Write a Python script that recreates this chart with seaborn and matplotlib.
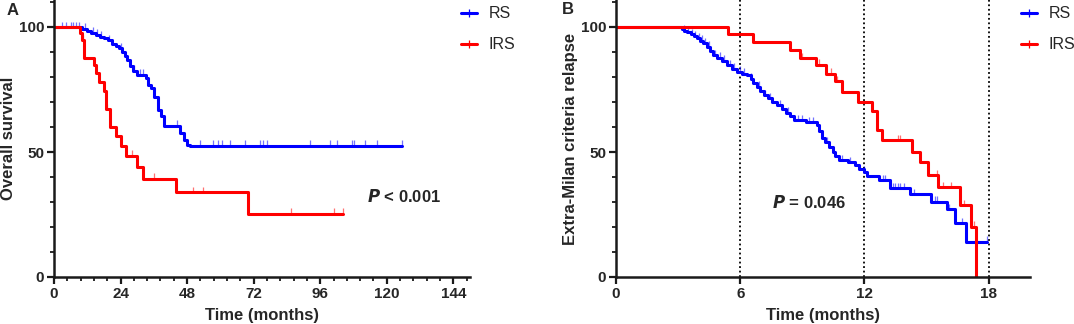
import matplotlib

matplotlib.use("Agg")
import matplotlib.pyplot as plt
from matplotlib.lines import Line2D
from matplotlib.ticker import MultipleLocator
import numpy as np
import seaborn as sns

sns.set_theme(style="ticks")
plt.rcParams["font.family"] = ["Liberation Sans", "DejaVu Sans"]

BLUE = "#0000ff"
RED = "#ff0000"
GROUPS = ["RS", "IRS"]

# ---- Panel A: overall survival (months) ----
a_rs_t = [0, 10, 12, 13.5, 15, 16.5, 18, 19.5, 21, 22.5, 23.5, 24.5, 25.5, 26.5,
          27.5, 28.5, 30, 33, 34, 35, 36, 37.5, 38.5, 39.5, 45.5, 47, 48, 49, 125.4]
a_rs_s = [100, 99.3, 98.5, 97.8, 97, 96.2, 95.5, 94.7, 93.3, 92.5, 91.6, 90, 88.5, 87,
          84.5, 82.5, 81, 79.5, 77, 75.5, 72, 67, 64.5, 60.5, 57.6, 55, 53, 52.5, 52.5]
a_rs_cens = [3, 4.5, 6, 7, 8, 9, 11, 14, 15.5, 17, 20, 24, 29, 31, 32, 44.2, 52.6,
             57.5, 59.3, 60.7, 63.5, 68.9, 74.3, 75.2, 76.7, 92.3, 99.5, 102, 107.4,
             108.2, 112.2, 116.6, 125.4]

a_irs_t = [0, 9.5, 10, 10.8, 14.5, 15.3, 16.3, 18, 18.8, 20.2, 22.4, 24, 26, 30, 32,
           44, 70, 104.3]
a_irs_s = [100, 97.5, 94.8, 87.5, 84.8, 81.5, 78, 74.3, 67.2, 60, 56.3, 52.5, 48.5,
           44, 39.3, 34, 25.3, 25.3]
a_irs_cens = [10.5, 19, 28, 36, 50, 53.8, 85.5, 101, 104.3]

# ---- Panel B: extra-Milan criteria relapse (months) ----
b_rs_t = [0, 3.18, 3.3, 3.42, 3.6, 3.75, 3.9, 4.05, 4.2, 4.39, 4.55, 4.71, 4.9, 5.1,
          5.36, 5.6, 5.84, 6.1, 6.32, 6.5, 6.64, 6.81, 6.95, 7.13, 7.35, 7.55, 7.77,
          8.0, 8.2, 8.4, 8.58, 9.2, 9.71, 9.8, 9.95, 10.1, 10.3, 10.5, 10.6, 10.76,
          11.2, 11.56, 11.75, 11.96, 12.13, 12.69, 13.26, 14.2, 15.24, 16.0, 16.4,
          16.9, 17.93]
b_rs_s = [100, 99.2, 98.5, 98.0, 97.2, 96.3, 95.5, 94.6, 93.6, 92.1, 90.5, 88.8, 87.8,
          86.6, 84.8, 83.4, 82.1, 81.4, 80.8, 79.3, 77.5, 76.1, 74.6, 72.8, 71.5, 70.2,
          68.8, 67.4, 65.8, 64.3, 62.8, 62.0, 60.8, 58.5, 55.6, 54, 52, 50.1, 48.5,
          46.8, 46, 44.8, 43.4, 42.1, 40.4, 38.8, 35.5, 33.2, 30.1, 27.1, 21.5, 14.1,
          14.1]
b_rs_cens = [3.3, 3.5, 3.65, 3.8, 4.0, 4.15, 4.3, 4.5, 4.8, 5.0, 5.2, 5.5, 5.7, 6.0,
             6.2, 6.5, 6.9, 7.2, 7.45, 7.9, 8.3, 8.8, 9.0, 9.3, 9.5, 10.2, 10.9, 11.3,
             12.0, 12.9, 13.0, 13.4, 13.5, 13.6, 13.7, 13.9, 14.4, 15.4, 15.5, 16.1,
             16.7, 17.93]

b_irs_t = [0, 5.43, 6.61, 8.42, 8.87, 9.68, 10.16, 10.6, 10.9, 11.67, 12.37, 12.61,
           12.85, 14.3, 14.67, 15.08, 15.56, 16.61, 17.17, 17.4]
b_irs_s = [100, 97.2, 94, 90.9, 87.6, 84.9, 81.3, 78.3, 73.9, 70.1, 66.5, 58.8, 54.8,
           50.1, 46.1, 40.8, 35.9, 28.8, 20.1, 0]
b_irs_cens = [9.0, 9.8, 10.4, 10.7, 13.6, 13.7, 15.5, 15.8, 16.2, 16.8, 17.3]


def step_value(times, surv, at):
    idx = np.searchsorted(times, at, side="right") - 1
    return np.asarray(surv)[idx]


def draw_curve(ax, times, surv, cens, color):
    sns.lineplot(x=times, y=surv, drawstyle="steps-post", estimator=None, sort=False,
                 color=color, linewidth=2.2, ax=ax)
    ax.plot(cens, step_value(times, surv, cens) + 1.0, linestyle="none", marker="|",
            markersize=5, markeredgewidth=0.9, color=color, alpha=0.55)


def style_axes(ax, xmax, major, minor, xlabel, ylabel):
    ax.set_xlim(0, xmax)
    ax.set_ylim(0, 110.8)
    ax.set_yticks([0, 50, 100])
    ax.yaxis.set_minor_locator(MultipleLocator(10))
    ax.xaxis.set_major_locator(MultipleLocator(major))
    if minor:
        ax.xaxis.set_minor_locator(MultipleLocator(minor))
    for side in ["left", "bottom"]:
        ax.spines[side].set_linewidth(1.8)
        ax.spines[side].set_color("#1a1a1a")
    sns.despine(ax=ax)
    ax.tick_params(which="major", length=5, width=1.6, labelsize=11, pad=2, color="#1a1a1a")
    ax.tick_params(which="minor", length=3, width=1.3, color="#1a1a1a")
    for lab in ax.get_xticklabels() + ax.get_yticklabels():
        lab.set_fontweight("bold")
    ax.set_xlabel(xlabel, fontsize=12, fontweight="bold", labelpad=5)
    ax.set_ylabel(ylabel, fontsize=12, fontweight="bold", labelpad=2)
    ax.set_facecolor("white")


def add_legend(fig, x):
    handles = [Line2D([0], [0], color=c, linewidth=2.2, marker="|", markersize=6,
                      markeredgewidth=0.9) for c in (BLUE, RED)]
    fig.legend(handles, GROUPS, loc="upper left", bbox_to_anchor=(x, 0.99),
               frameon=False, fontsize=11.5, handlelength=1.0, handletextpad=0.7,
               labelspacing=1.0, borderpad=0.2, borderaxespad=0)


fig = plt.figure(figsize=(10.74, 3.24), dpi=100)
fig.patch.set_facecolor("white")
ax_a = fig.add_axes([54 / 1074, 1 - 277 / 324, 416 / 1074, 277 / 324])
ax_b = fig.add_axes([616 / 1074, 1 - 277 / 324, 414 / 1074, 277 / 324])

draw_curve(ax_a, a_rs_t, a_rs_s, a_rs_cens, BLUE)
draw_curve(ax_a, a_irs_t, a_irs_s, a_irs_cens, RED)
style_axes(ax_a, 150, 24, 4.8, "Time (months)", "Overall survival")
ax_a.text(113, 32, r"$\bfit{P}$ < 0.001", fontsize=12, fontweight="bold", va="center")

for t in [6, 12, 18]:
    ax_b.axvline(t, color="black", linestyle=(0, (1, 1.5)), linewidth=1.3, zorder=1)
draw_curve(ax_b, b_rs_t, b_rs_s, b_rs_cens, BLUE)
draw_curve(ax_b, b_irs_t, b_irs_s, b_irs_cens, RED)
style_axes(ax_b, 20, 6, None, "Time (months)", "Extra-Milan criteria relapse")
ax_b.text(7.53, 30, r"$\bfit{P}$ = 0.046", fontsize=12, fontweight="bold", va="center")

add_legend(fig, 458 / 1074)
add_legend(fig, 1018 / 1074)

fig.text(7 / 1074, 1 - 3 / 324, "A", fontsize=12, fontweight="bold", va="top")
fig.text(562 / 1074, 1 - 2 / 324, "B", fontsize=12, fontweight="bold", va="top")

fig.savefig("out.png", dpi=100, facecolor="white")
